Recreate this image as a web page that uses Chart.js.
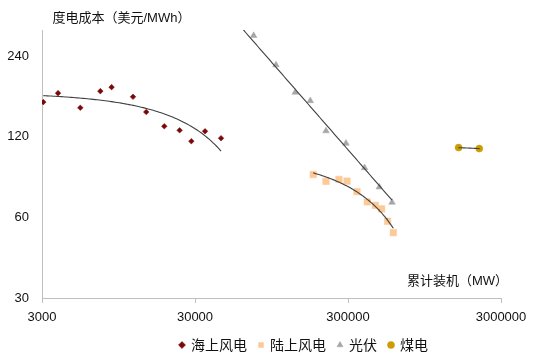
<!DOCTYPE html>
<html>
<head>
<meta charset="utf-8">
<script src="https://cdn.jsdelivr.net/npm/chart.js@4.4.1/dist/chart.umd.min.js"></script>
<style>
  html, body { margin: 0; padding: 0; background: #ffffff; }
  canvas { display: block; }
</style>
</head>
<body>
<canvas id="c" width="550" height="362"></canvas>
<script>
// ---- data ----
const xTicks = [3000, 30000, 300000, 3000000];
const yTicks = [30, 60, 120, 240];

const seriesNames = ['海上风电', '陆上风电', '光伏', '煤电'];
const yTitle = '度电成本（美元/MWh）';
const xTitle = '累计装机（MW）';

// 海上风电 (offshore wind)
const offshoreX = [3060, 3820, 5340, 7220, 8550, 11800, 14400, 18900, 23800, 28400, 34900, 44400];
const offshoreY = [161.5, 174.4, 153.8, 177.4, 183.6, 169.0, 148.3, 131.2, 126.7, 115.4, 125.7, 118.4];

// 陆上风电 (onshore wind)
const onshoreX = [177900, 215400, 261900, 295600, 343500, 401100, 452500, 497600, 544400, 593100];
const onshoreY = [86.7, 81.7, 83.1, 81.9, 74.8, 68.5, 66.5, 64.5, 58.0, 52.6];

// 光伏 (solar PV); first point lies above the axis maximum and is clipped, as in the reference
const solarX = [40000, 72500, 101500, 135700, 170100, 215400, 291000, 385000, 480600, 582000];
const solarY = [381, 285.8, 222.2, 175.5, 163.3, 126.0, 113.3, 91.8, 77.8, 68.2];

// 煤电 (coal)
const coalX = [1585000, 2163000];
const coalY = [109.2, 108.3];

// ---- least-squares trendlines built from the data (as the spreadsheet does) ----
function linearFit(xs, ys) {
  const n = xs.length;
  const mx = xs.reduce((a, b) => a + b, 0) / n;
  const my = ys.reduce((a, b) => a + b, 0) / n;
  let sxy = 0, sxx = 0;
  for (let i = 0; i < n; i++) { sxy += (xs[i] - mx) * (ys[i] - my); sxx += (xs[i] - mx) ** 2; }
  const b = sxy / sxx, a = my - b * mx;
  return x => a + b * x;
}
function powerFit(xs, ys) {
  const f = linearFit(xs.map(Math.log), ys.map(Math.log));
  return x => Math.exp(f(Math.log(x)));
}
function trendPoints(fn, xs) {
  const lo = Math.log(Math.min(...xs)), hi = Math.log(Math.max(...xs));
  const pts = [];
  const n = 90;
  for (let i = 0; i < n; i++) {
    const x = Math.exp(lo + (hi - lo) * i / (n - 1));
    pts.push({ x, y: fn(x) });
  }
  return pts;
}
const toPts = (xs, ys) => xs.map((x, i) => ({ x, y: ys[i] }));

const FONT = '"Liberation Sans", "Noto Sans CJK SC", sans-serif';
const TREND = '#404040';

function trendDataset(points) {
  return {
    label: '', data: points, showLine: true, pointRadius: 0, pointHoverRadius: 0,
    borderColor: TREND, borderWidth: 1.1, fill: false, order: 0, tension: 0
  };
}
function pointDataset(label, points, color, style, radius) {
  return {
    label, data: points, showLine: false, pointStyle: style, pointRadius: radius,
    pointHoverRadius: radius, backgroundColor: color, borderColor: color,
    pointBorderWidth: 0.5, borderWidth: 0.5, order: 1
  };
}

const titlesPlugin = {
  id: 'titles',
  afterDraw(chart) {
    const { ctx, chartArea } = chart;
    ctx.save();
    ctx.fillStyle = '#111111';
    ctx.font = '13px ' + FONT;
    ctx.textBaseline = 'middle';
    ctx.textAlign = 'left';
    ctx.fillText(yTitle, chartArea.left + 10.5, chartArea.top - 11.5);
    ctx.fillText(xTitle, chartArea.left + 365, chartArea.bottom - 16.5);
    ctx.restore();
  }
};
const legendShift = {
  id: 'legendShift',
  afterLayout(chart) {
    if (chart.legend) { chart.legend.left += 53.5; chart.legend.right += 53.5; }
  }
};

new Chart(document.getElementById('c'), {
  type: 'scatter',
  data: {
    datasets: [
      trendDataset(trendPoints(linearFit(offshoreX, offshoreY), offshoreX)),
      trendDataset(trendPoints(linearFit(onshoreX, onshoreY), onshoreX)),
      trendDataset(trendPoints(powerFit(solarX, solarY), solarX)),
      trendDataset(trendPoints(linearFit(coalX, coalY), coalX)),
      pointDataset(seriesNames[0], toPts(offshoreX, offshoreY), '#7a0808', 'rectRot', 2.8),
      pointDataset(seriesNames[1], toPts(onshoreX, onshoreY), '#fdc996', 'rect', 4.6),
      pointDataset(seriesNames[2], toPts(solarX, solarY), '#a6a6a6', 'triangle', 3.8),
      pointDataset(seriesNames[3], toPts(coalX, coalY), '#cb9d00', 'circle', 3.5)
    ]
  },
  options: {
    responsive: false,
    animation: false,
    events: [],
    layout: { padding: { top: 30, left: 0, right: 49, bottom: 0 } },
    scales: {
      x: {
        type: 'logarithmic', min: 3000, max: 3000000,
        afterBuildTicks: s => { s.ticks = xTicks.map(v => ({ value: v })); },
        afterFit: s => { s.height = 28; },
        ticks: { font: { family: FONT, size: 13 }, color: '#111111', padding: 7,
                 maxRotation: 0, autoSkip: false, callback: v => String(v) },
        grid: { display: true, drawOnChartArea: false, drawTicks: true, tickLength: 5, color: '#bfbfbf' },
        border: { display: true, color: '#bfbfbf', width: 1 }
      },
      y: {
        type: 'logarithmic', min: 30, max: 300,
        afterBuildTicks: s => { s.ticks = yTicks.map(v => ({ value: v })); },
        afterFit: s => { s.width = 42; },
        ticks: { font: { family: FONT, size: 13 }, color: '#111111', padding: 13,
                 autoSkip: false, callback: v => String(v) },
        grid: { display: true, drawOnChartArea: false, drawTicks: false, color: '#bfbfbf' },
        border: { display: true, color: '#bfbfbf', width: 1 }
      }
    },
    plugins: {
      tooltip: { enabled: false },
      legend: {
        position: 'bottom',
        labels: {
          usePointStyle: true, boxWidth: 4, boxHeight: 5, padding: 12,
          color: '#111111', font: { family: '"Noto Sans CJK SC", ' + FONT, size: 14 },
          filter: item => item.text !== ''
        }
      }
    }
  },
  plugins: [titlesPlugin, legendShift]
});
</script>
</body>
</html>
